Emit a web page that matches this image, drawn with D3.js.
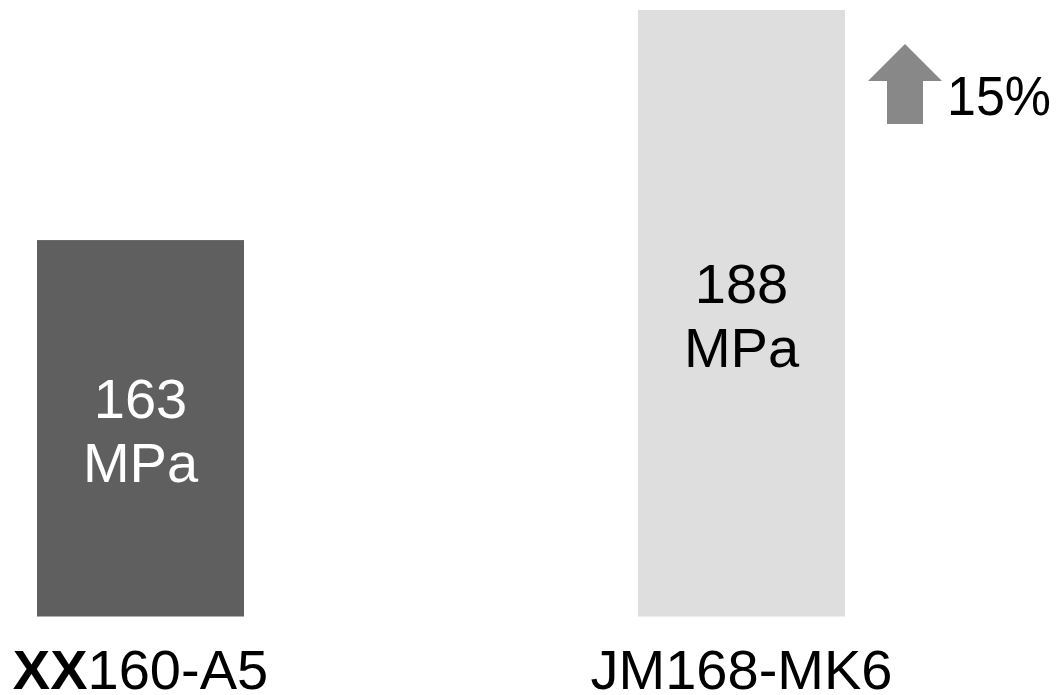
<!DOCTYPE html>
<html><head><meta charset="utf-8">
<script src="https://cdn.jsdelivr.net/npm/d3@7"></script>
<style>html,body{margin:0;padding:0;background:#fff;}svg{display:block;}</style>
</head><body>
<svg id="c" width="1061" height="695"></svg>
<script>
const categories = ["XX160-A5", "JM168-MK6"];
const boldPrefix = ["XX", ""];
const values = [163, 188];
const unit = "MPa";
const barColors = ["#5f5f5f", "#dedede"];
const labelColors = ["#ffffff", "#000000"];
const yDomain = [122.1, 188];

const svg = d3.select("#c");
const font = "'Liberation Sans', Arial, sans-serif";

const x = d3.scaleBand().domain(categories).range([37, 845]).paddingInner(394/601).paddingOuter(0);
const y = d3.scaleLinear().domain(yDomain).range([616.5, 10]);

svg.selectAll("rect.bar").data(values).join("rect")
  .attr("class","bar")
  .attr("x",(d,i)=>x(categories[i]))
  .attr("width",x.bandwidth())
  .attr("y",d=>y(d))
  .attr("height",d=>y(yDomain[0])-y(d))
  .attr("fill",(d,i)=>barColors[i]);

// value labels
values.forEach((v,i)=>{
  const cx = x(categories[i]) + x.bandwidth()/2;
  const cy = (y(v)+y(yDomain[0]))/2;
  const t = svg.append("text").attr("text-anchor","middle").attr("font-family",font)
    .attr("font-size",56).attr("fill",labelColors[i]);
  t.append("tspan").attr("x",cx).attr("y",cy-10).text(v);
  t.append("tspan").attr("x",cx).attr("y",cy+54).text(unit);
});

// category labels
categories.forEach((c,i)=>{
  const cx = x(c) + x.bandwidth()/2;
  const t = svg.append("text").attr("text-anchor","middle").attr("font-family",font)
    .attr("font-size",56).attr("fill","#000").attr("x",cx).attr("y",689);
  if (boldPrefix[i]) {
    t.append("tspan").attr("font-weight","bold").text(boldPrefix[i]);
    t.append("tspan").text(c.slice(boldPrefix[i].length));
  } else t.text(c);
});

// increase arrow
const pct = Math.round((values[1]-values[0])/values[0]*100);
const ax = x(categories[1]) + x.bandwidth() + 23; // left of arrow head
const at = 44;
const arrow = d3.path();
arrow.moveTo(ax, at+37);
arrow.lineTo(ax+37, at);
arrow.lineTo(ax+74, at+37);
arrow.lineTo(ax+55, at+37);
arrow.lineTo(ax+55, at+80);
arrow.lineTo(ax+19, at+80);
arrow.lineTo(ax+19, at+37);
arrow.closePath();
svg.append("path").attr("d",arrow.toString()).attr("fill","#888888");
svg.append("text").attr("x",ax+79).attr("y",115).attr("font-family",font)
  .attr("font-size",56).attr("fill","#000")
  .attr("textLength",104).attr("lengthAdjust","spacingAndGlyphs")
  .text(pct+"%");
</script>
</body></html>
